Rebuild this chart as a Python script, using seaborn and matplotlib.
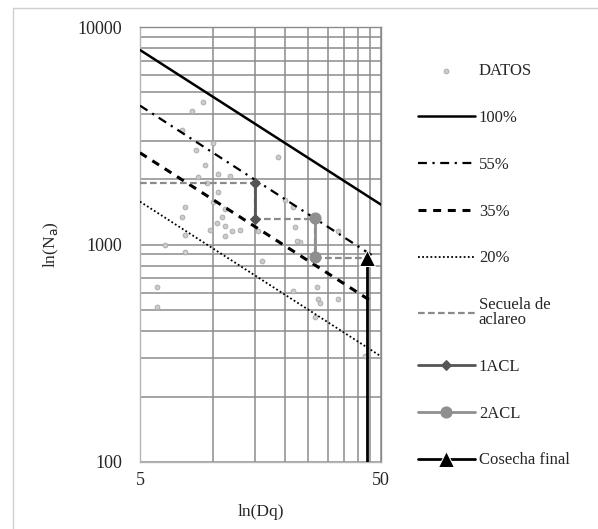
import matplotlib
matplotlib.use("Agg")
import matplotlib.pyplot as plt
import numpy as np
import pandas as pd
import seaborn as sns
from matplotlib.patches import Rectangle
from matplotlib.ticker import FixedLocator, NullFormatter

# observed stands (quadratic mean diameter vs trees per ha)
dq_datos = [9.1, 8.2, 7.5, 10.05, 8.5, 9.3, 10.5, 11.8, 8.7, 9.5, 10.5, 10.05, 7.7, 7.5,
            11.3, 10.9, 10.4, 11.3, 9.8, 12.0, 13.0, 11.3, 7.7, 6.35, 15.4, 7.7, 5.9, 5.9,
            16.0, 18.7, 20.0, 21.6, 22.0, 23.1, 22.4, 33.2, 21.6, 27.1, 27.4, 27.9, 33.2,
            42.9, 26.6]
na_datos = [4530, 4120, 3370, 2940, 2730, 2330, 2100, 2070, 2050, 1925, 1750, 1575, 1480, 1340,
            1450, 1340, 1260, 1210, 1170, 1150, 1170, 1090, 1110, 1000, 1150, 920, 635, 514,
            836, 2530, 1610, 1480, 1200, 1030, 1040, 1150, 610, 635, 560, 540, 560,
            306, 462]

# density lines (% of maximum density)
dq_100, na_100 = [5, 50], [7840, 1525]
dq_55, na_55 = [5, 46], [4350, 890]
dq_35, na_35 = [5, 46], [2640, 545]
dq_20, na_20 = [5, 50], [1575, 306]

# thinning schedule
dq_secuela = [5, 15, 15, 26.5, 26.5, 43.8]
na_secuela = [1920, 1920, 1310, 1310, 870, 870]
dq_acl1, na_acl1 = [15, 15], [1920, 1310]
dq_acl2, na_acl2 = [26.5, 26.5], [1330, 875]
dq_cosecha, na_cosecha = [43.8, 43.8], [870, 100]

sns.set_style("white")
plt.rcParams["font.family"] = ["Liberation Serif", "DejaVu Serif"]

fig = plt.figure(figsize=(5.98, 5.29), dpi=100)
ax = fig.add_axes([140 / 598, 1 - 462 / 529, 241 / 598, 435 / 529])
ax.set_xscale("log")
ax.set_yscale("log")

sns.scatterplot(x=dq_datos, y=na_datos, ax=ax, s=12, color="#cccccc",
                edgecolor="#a8a8a8", linewidth=0.6, label="DATOS", zorder=3)

sns.lineplot(x=dq_100, y=na_100, ax=ax, color="black", lw=1.8, label="100%", zorder=4)
sns.lineplot(x=dq_55, y=na_55, ax=ax, color="black", lw=1.6,
             linestyle=(0, (4, 2.5, 1, 2.5)), label="55%", zorder=4)
sns.lineplot(x=dq_35, y=na_35, ax=ax, color="black", lw=2.2,
             linestyle=(0, (2.6, 2.2)), label="35%", zorder=4)
sns.lineplot(x=dq_20, y=na_20, ax=ax, color="black", lw=1.3,
             linestyle=(0, (1, 1.3)), label="20%", zorder=4)
sns.lineplot(x=dq_secuela, y=na_secuela, ax=ax, color="#8a8a8a", lw=1.6, sort=False,
             estimator=None, linestyle=(0, (3, 1.5)), label="Secuela de\naclareo", zorder=5)
sns.lineplot(x=dq_acl1, y=na_acl1, ax=ax, color="#555555", lw=2.0, sort=False, estimator=None,
             marker="D", markersize=5, markeredgecolor="#555555", label="1ACL", zorder=6)
sns.lineplot(x=dq_acl2, y=na_acl2, ax=ax, color="#8f8f8f", lw=2.0, sort=False, estimator=None,
             marker="o", markersize=8, markeredgecolor="#8f8f8f", label="2ACL", zorder=6)
sns.lineplot(x=dq_cosecha, y=na_cosecha, ax=ax, color="black", lw=2.0, sort=False, estimator=None,
             marker="^", markersize=11, markevery=[0], label="Cosecha final", zorder=7)

ax.set_xlim(5, 50)
ax.set_ylim(100, 10000)

ax.xaxis.set_major_locator(FixedLocator([5, 50]))
ax.xaxis.set_minor_locator(FixedLocator([10, 15, 20, 25, 30, 35, 40, 45]))
ax.set_xticklabels(["5", "50"])
ax.xaxis.set_minor_formatter(NullFormatter())
ax.yaxis.set_major_locator(FixedLocator([100, 1000, 10000]))
ax.yaxis.set_minor_locator(FixedLocator([200, 300, 400, 500, 600, 700, 800, 900,
                                         2000, 3000, 4000, 5000, 6000, 7000, 8000, 9000]))
ax.set_yticklabels(["100", "1000", "10000"])
ax.yaxis.set_minor_formatter(NullFormatter())

ax.grid(which="both", color="#8c8c8c", lw=1.1)
ax.tick_params(which="both", length=0, labelsize=13)
ax.tick_params(axis="y", pad=13)
ax.tick_params(axis="x", pad=7)
for name, sp in ax.spines.items():
    sp.set_color("#b5b5b5")
    sp.set_linewidth(1.0)
ax.spines["right"].set_color("#8c8c8c")
ax.spines["top"].set_color("#8c8c8c")

ax.set_xlabel("ln(Dq)", fontsize=12.5, labelpad=11)
ax.set_ylabel("ln(N$_{\\mathrm{a}}$)", fontsize=12.5, labelpad=12)

handles, labels = ax.get_legend_handles_labels()
ax.get_legend().remove()
leg = fig.legend(handles, labels, loc="upper left", bbox_to_anchor=(403 / 598, 1 - 48 / 529),
                 frameon=False, fontsize=12, handlelength=3.4, handletextpad=0.25,
                 labelspacing=1.85, markerscale=1.0)
# tighter two-line label, like the original
leg.get_texts()[5].set_linespacing(0.9)

fig.add_artist(Rectangle((13 / 598, -0.02), 1.0, 1 - 8 / 529 + 0.02, transform=fig.transFigure,
                         fill=False, edgecolor="#d0d0d0", lw=1.0))

fig.savefig("out.png", dpi=100)
